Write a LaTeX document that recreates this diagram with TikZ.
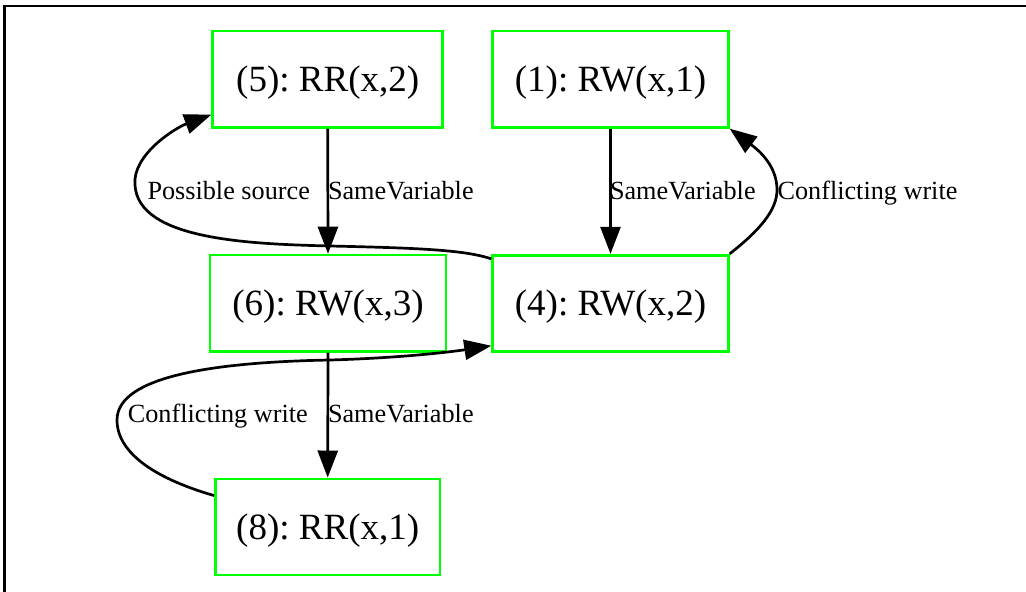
\documentclass[tikz,border=0pt]{standalone}
\usepackage{fontspec}
\setmainfont{Liberation Serif}
\usetikzlibrary{arrows.meta,calc}
\definecolor{nodegreen}{RGB}{0,255,0}
\tikzset{
  opbox/.style={draw=nodegreen, line width=1pt, rectangle, inner sep=0pt,
    minimum height=35.6pt, text height=9.1pt, text depth=0pt,
    font=\fontsize{13.7}{16}\selectfont},
  edgelab/.style={inner sep=0pt, anchor=base, font=\fontsize{9.7}{12}\selectfont},
  conn/.style={draw=black, line width=1pt, -{Triangle[length=10pt,width=7.4pt]}},
  frameline/.style={draw=black, line width=1.1pt}
}
\frenchspacing
\begin{document}
\begin{tikzpicture}[x=0.37pt,y=-0.37pt]
\useasboundingbox (0,0) rectangle (1026,592);
\draw[frameline] (4.7,640) -- (4.7,6) -- (1060,6);

\node[opbox, minimum width=85.1pt] (n5) at (327.7,79.2) {(5): RR(x,2)};
\node[opbox, minimum width=87.2pt] (n1) at (610.5,79.2) {(1): RW(x,1)};
\node[opbox, minimum width=87.3pt] (n6) at (328,303.2) {(6): RW(x,3)};
\node[opbox, minimum width=87.2pt] (n4) at (610.5,303.3) {(4): RW(x,2)};
\node[opbox, minimum width=83.1pt] (n8) at (327.7,527) {(8): RR(x,1)};

% straight edges
\draw[conn] (n5.south) -- (n6.north);
\draw[conn] (n1.south) -- (n4.north);
\draw[conn] (n6.south) -- (n8.north);

% curved edges
\draw[conn] ($(n4.north west)+(0,5)$) .. controls (465,250) and (420,248) .. (330,246)
  .. controls (250,244) and (138,240) .. (135,185)
  .. controls (132,155) and (175,128) .. ($(n5.south west)+(0,-14)$);
\draw[conn] (n4.north east) .. controls (760,230) and (777,210) .. (777,190)
  .. controls (777,170) and (765,155) .. (n1.south east);
\draw[conn] ($(n8.north west)+(0,18)$) .. controls (160,480) and (117,455) .. (117,420)
  .. controls (117,375) and (220,362) .. (330,360)
  .. controls (400,358) and (450,352) .. ($(n4.south west)+(0,-7)$);

% labels
\node[edgelab] (lps) at (228.7,199) {Possible source};
\node[edgelab] (lsv1) at (400.8,199) {SameVariable};
\node[edgelab] (lsv2) at (682.8,199) {SameVariable};
\node[edgelab] (lcw1) at (867.5,199) {Conflicting write};
\node[edgelab] (lcw2) at (217.8,422) {Conflicting write};
\node[edgelab] (lsv3) at (400.8,422) {SameVariable};
\end{tikzpicture}
\end{document}
